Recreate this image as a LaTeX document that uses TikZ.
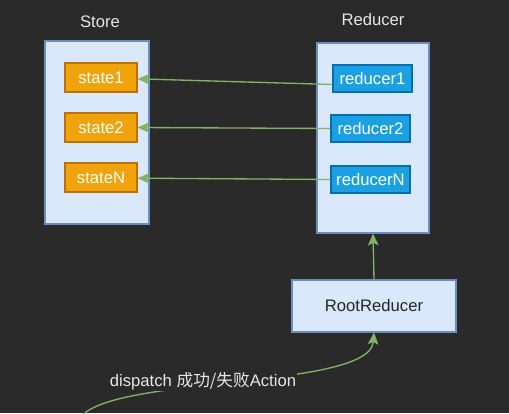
\documentclass[tikz,border=0pt]{standalone}
\usepackage{fontspec}
\setmainfont{Liberation Sans}
\newfontfamily\cjkfont{Noto Sans CJK SC}
\usepackage{xcolor}
\usetikzlibrary{arrows.meta}
\definecolor{bgDark}{HTML}{2A2A2A}
\definecolor{boxBlue}{HTML}{DAE8FC}
\definecolor{boxBlueLine}{HTML}{6C8EBF}
\definecolor{stateOrange}{HTML}{F0A30A}
\definecolor{stateLine}{HTML}{BD7000}
\definecolor{redBlue}{HTML}{1BA1E2}
\definecolor{redLine}{HTML}{006EAF}
\definecolor{linkGreen}{HTML}{82B366}
\definecolor{titleGray}{HTML}{E6E6E6}

\begin{document}
\begin{tikzpicture}[
  x=0.75pt, y=-0.75pt,
  font=\fontsize{12.5}{14}\selectfont,
  holder/.style={draw=boxBlueLine, fill=boxBlue, line width=0.8pt},
  statebox/.style={draw=stateLine, fill=stateOrange, text=white, line width=0.8pt, minimum width=54pt, minimum height=21.75pt, inner sep=1pt},
  redbox/.style={draw=redLine, fill=redBlue, text=white, line width=0.8pt, minimum width=59.25pt, minimum height=20.25pt, inner sep=1pt},
  title/.style={text=titleGray},
  arr/.style={-{Stealth[length=9pt, width=8pt, inset=2pt]}, line width=1pt, color=linkGreen}
]

% ---------- canvas ----------
\fill[bgDark] (0,0) rectangle (509,413);
\clip (0,0) rectangle (509,413);

% ---------- STORE ----------
\node[title] (storeT) at (100,22) {Store};
\node[holder, minimum width=78pt, minimum height=137.25pt] (store) at (97,132.5) {};
\node[statebox] (s1) at (101,77.5) {state1};
\node[statebox] (s2) at (101,127.5) {state2};
\node[statebox] (sN) at (101,177.5) {stateN};

% ---------- REDUCER ----------
\node[title] (redT) at (373,20) {Reducer};
\node[holder, minimum width=84pt, minimum height=142.5pt] (red) at (373,138) {};
\node[redbox] (r1) at (372.5,78.5) {reducer1};
\node[redbox] (r2) at (370.5,128.5) {reducer2};
\node[redbox] (rN) at (370.5,179.5) {reducerN};

\node[holder, minimum width=123pt, minimum height=39pt, text=black!85] (root) at (374,306) {RootReducer};

% ---------- links ----------
\draw[arr] ([yshift=-4.5pt]r1.west) -- ([yshift=-1pt]s1.east);
\draw[arr] (r2.west) -- (s2.east);
\draw[arr] (rN.west) -- ([yshift=-0.5pt]sN.east);
\draw[arr] (root.north) -- (red.south);

% ---------- dispatch ----------
\coordinate (src) at (80,418);
\draw[arr] (src) .. controls (110,375) and (370,390) .. (root.south);
\node[fill=bgDark, text=titleGray, inner sep=1pt] (disp) at (203,381) {dispatch {\cjkfont 成功/失败}Action};

\end{tikzpicture}
\end{document}
